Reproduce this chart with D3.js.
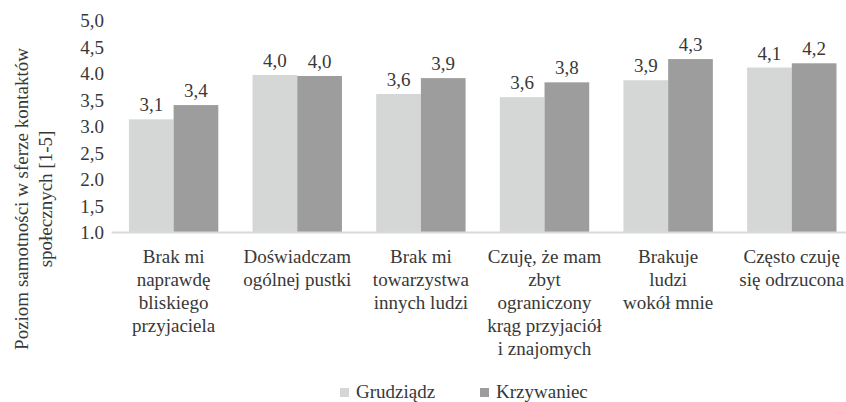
<!DOCTYPE html>
<meta charset="utf-8">
<script src="https://d3js.org/d3.v7.min.js"></script>
<body style="margin:0">
<div id="chart"></div>
<script>
    // data
    var categories = [
        ["Brak mi", "naprawdę", "bliskiego", "przyjaciela"],
        ["Doświadczam", "ogólnej pustki"],
        ["Brak mi", "towarzystwa", "innych ludzi"],
        ["Czuję, że mam", "zbyt", "ograniczony", "krąg przyjaciół", "i znajomych"],
        ["Brakuje", "ludzi", "wokół mnie"],
        ["Często czuję", "się odrzucona"]
    ]
    var seriesNames = ["Grudziądz", "Krzywaniec"]
    var grudziadz = [3.14, 3.98, 3.62, 3.56, 3.88, 4.12]
    var krzywaniec = [3.41, 3.96, 3.92, 3.84, 4.28, 4.20]
    var tickLabels = ["1.0", "1,5", "2.0", "2,5", "3.0", "3,5", "4.0", "4,5", "5,0"]
    var tickValues = [1, 1.5, 2, 2.5, 3, 3.5, 4, 4.5, 5]

    var width = 846
    var height = 402
    var colors = ["#d5d6d6", "#9d9d9d"]
    var font = "'Liberation Serif'"
    var textColor = "#383838"

    var svg = d3.select("#chart")
        .append("svg")
        .attr("width", width)
        .attr("height", height)
        .style("font-family", font)

    // every text goes straight into the svg
    function addText(x, y, str, anchor, transform) {
        var t = svg.append("text")
            .attr("fill", textColor)
            .attr("text-anchor", anchor)
            .style("font-family", font)
            .style("font-size", "19px")
            .text(str)
        if (transform) t.attr("transform", transform)
        else t.attr("x", x).attr("y", y)
        return t
    }

    var x0 = d3.scaleBand()
        .domain(d3.range(categories.length))
        .range([111.6, 853.8])
        .paddingInner(0.277)
        .paddingOuter(0.14)

    var x1 = d3.scaleBand()
        .domain([0, 1])
        .range([0, x0.bandwidth()])

    var y = d3.scaleLinear()
        .domain([1, 5])
        .range([232.5, 21])

    // y tick labels (no axis line, no ticks)
    tickValues.forEach(function (v, i) {
        addText(104, y(v), tickLabels[i], "end").attr("dy", "0.34em")
    })

    // bars
    var rows = []
    grudziadz.forEach(function (v, i) {
        rows.push({ cat: i, s: 0, v: v })
        rows.push({ cat: i, s: 1, v: krzywaniec[i] })
    })

    svg.selectAll("rect.bar")
        .data(rows)
        .enter()
        .append("rect")
        .attr("class", "bar")
        .attr("x", function (d) { return x0(d.cat) + x1(d.s) })
        .attr("width", x1.bandwidth())
        .attr("y", function (d) { return y(d.v) })
        .attr("height", function (d) { return y(1) - y(d.v) })
        .attr("fill", function (d) { return colors[d.s] })

    rows.forEach(function (d) {
        addText(x0(d.cat) + x1(d.s) + x1.bandwidth() / 2, y(d.v) - 8,
            d.v.toFixed(1).replace(".", ","), "middle")
    })

    // x axis line
    svg.append("line")
        .attr("x1", 111.6)
        .attr("x2", 853.8)
        .attr("y1", y(1))
        .attr("y2", y(1))
        .attr("stroke", "#d9d9d9")
        .attr("stroke-width", 2)

    // category labels, one text per line
    categories.forEach(function (lines, i) {
        lines.forEach(function (line, k) {
            addText(x0(i) + x0.bandwidth() / 2, 262.5 + k * 23.1, line, "middle")
        })
    })

    // y title
    var titleLines = ["Poziom samotności w sferze kontaktów", "społecznych [1-5]"]
    titleLines.forEach(function (line, i) {
        addText(0, 0, line, "middle", "translate(" + (28 + i * 24) + ",199) rotate(-90)")
    })

    // legend
    var legendX = [340, 480]
    seriesNames.forEach(function (name, i) {
        svg.append("rect")
            .attr("x", legendX[i])
            .attr("y", 388)
            .attr("width", 9)
            .attr("height", 9)
            .attr("fill", colors[i])
        addText(legendX[i] + 16, 398, name, "start")
    })
</script>
</body>
